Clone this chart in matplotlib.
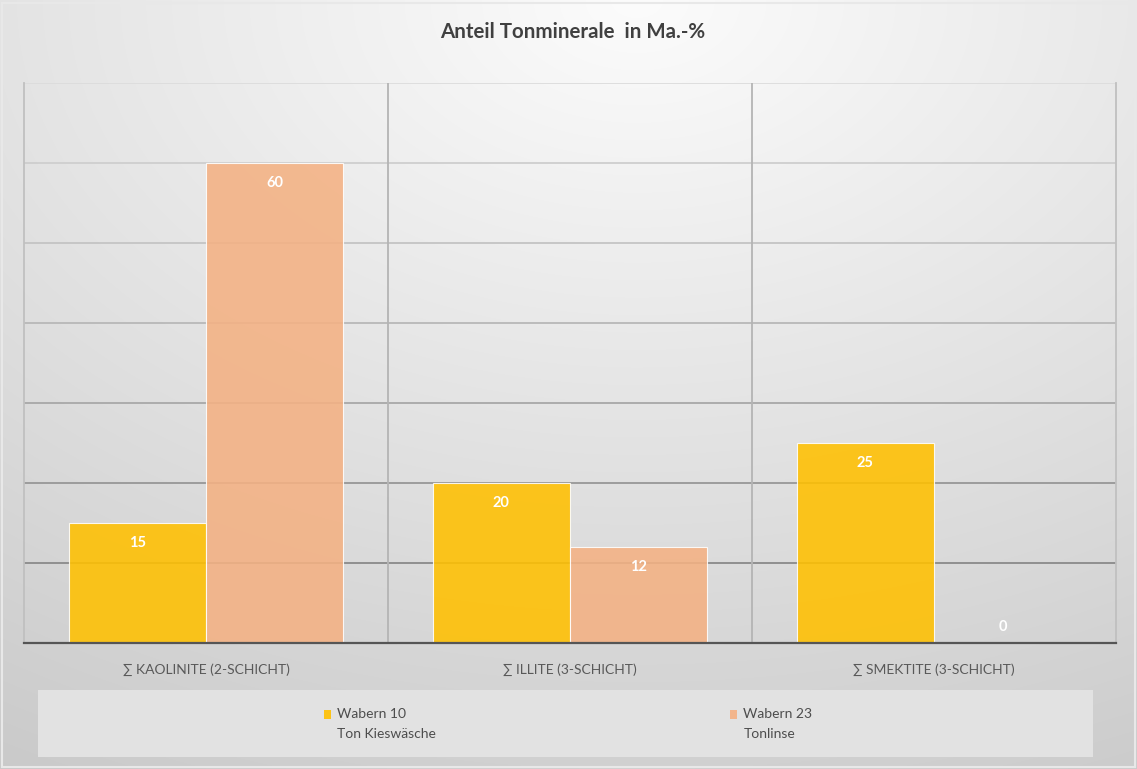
import numpy as np
import matplotlib
matplotlib.use("Agg")
import matplotlib.pyplot as plt
from matplotlib.patches import Rectangle
from matplotlib.legend_handler import HandlerPatch

# Data
categories = ["∑ KAOLINITE (2-SCHICHT)", "∑ ILLITE (3-SCHICHT)", "∑ SMEKTITE (3-SCHICHT)"]
series_names = ["Wabern 10\nTon Kieswäsche", "Wabern 23\nTonlinse"]
wabern10 = [15, 20, 25]
wabern23 = [60, 12, 0]
y_ticks = [0, 10, 20, 30, 40, 50, 60, 70]
title = "Anteil Tonminerale  in Ma.-%"

FONT = ["Lato", "DejaVu Sans"]
plt.rcParams["font.family"] = FONT

W, H = 1137, 769
fig = plt.figure(figsize=(W / 100, H / 100), dpi=100)

# Radial gray background, bright near the top centre
bg_ax = fig.add_axes([0, 0, 1, 1], zorder=-10)
yy, xx = np.mgrid[0:H, 0:W]
d = np.sqrt(((xx - 0.56 * W) / W) ** 2 + (yy / H) ** 2)
shade = np.clip(252 - 44 * d, 198, 252) / 255.0
bg_ax.imshow(np.dstack([shade] * 3), extent=[0, 1, 0, 1], aspect="auto", origin="upper")
bg_ax.set_axis_off()
fig.patches.append(Rectangle((0.002, 0.002), 0.996, 0.994, transform=fig.transFigure,
                             fill=False, edgecolor="#e8e8e8", lw=1.5, zorder=-5))

ax = fig.add_axes([24 / W, 1 - 643 / H, 1092 / W, 560 / H])
ax.set_facecolor("none")

x = np.arange(len(categories))
bw = 0.377
col10 = "#FFC000"
col23 = "#F4B183"
b1 = ax.bar(x - bw / 2, wabern10, bw, color=col10, alpha=0.88,
            edgecolor=(1, 1, 1, 0.6), lw=0.8, zorder=3, label=series_names[0])
b2 = ax.bar(x + bw / 2, wabern23, bw, color=col23, alpha=0.88,
            edgecolor=(1, 1, 1, 0.6), lw=0.8, zorder=3, label=series_names[1])

# Value labels
for bars, vals in ((b1, wabern10), (b2, wabern23)):
    for rect, v in zip(bars, vals):
        cx = rect.get_x() + rect.get_width() / 2
        off = -14.5 if v > 0 else 11.5
        ax.annotate(f"{v}", (cx, v), xytext=(0, off), textcoords="offset points",
                    ha="center", va="center", color="white", fontsize=10.5,
                    fontweight="bold", zorder=5)

ax.set_xlim(-0.5, len(categories) - 0.5)
ax.set_ylim(0, 70)

# Horizontal gridlines, darkening towards the base
grid_cols = {70: "#dcdcdc", 60: "#cecece", 50: "#c4c4c4", 40: "#b8b8b8",
             30: "#a8a8a8", 20: "#979797", 10: "#8a8a8a"}
for t in y_ticks[1:]:
    ax.axhline(t, color=grid_cols[t], lw=1.3, zorder=1)
for xv in x[:-1] + 0.5:
    ax.axvline(xv, color="#b4b4b4", lw=1.3, zorder=1)

for s in ("left", "right"):
    ax.spines[s].set_color("#c0c0c0")
    ax.spines[s].set_linewidth(1.3)
ax.spines["top"].set_visible(False)
ax.spines["bottom"].set_color("#555555")
ax.spines["bottom"].set_linewidth(1.6)
ax.spines["bottom"].set_zorder(6)

ax.set_yticks([])
ax.set_xticks(x)
ax.set_xticklabels(categories, fontsize=10, color="#595959")
ax.tick_params(axis="x", length=0, pad=15)

fig.text(0.504, 1 - 32 / H, title, ha="center", va="center", fontsize=14.8,
         fontweight="bold", color="#404040")

# Legend area
fig.patches.append(Rectangle((38 / W, 1 - 757 / H), 1055 / W, 67 / H,
                             transform=fig.transFigure, facecolor="#e2e2e2",
                             edgecolor="none", zorder=-4))


def top_square(legend, orig_handle, xdescent, ydescent, width, height, fontsize):
    # square level with the first line of a two-line label
    return Rectangle((-xdescent, -ydescent + 0.68 * fontsize), width, height)


for bars, name, xpos in ((b1, series_names[0], 311), (b2, series_names[1], 717)):
    lg = fig.legend([bars[0]], [name], loc="center left",
                    bbox_to_anchor=(xpos / W, 1 - 724 / H), frameon=False,
                    fontsize=10, handlelength=0.55, handleheight=0.55,
                    handletextpad=0.45, labelcolor="#4d4d4d",
                    handler_map={Rectangle: HandlerPatch(patch_func=top_square)})
    for t in lg.get_texts():
        t.set_linespacing(1.75)
    for h in lg.legend_handles:
        h.set_alpha(0.9)
        h.set_edgecolor("none")

fig.savefig("out.png", dpi=100)
